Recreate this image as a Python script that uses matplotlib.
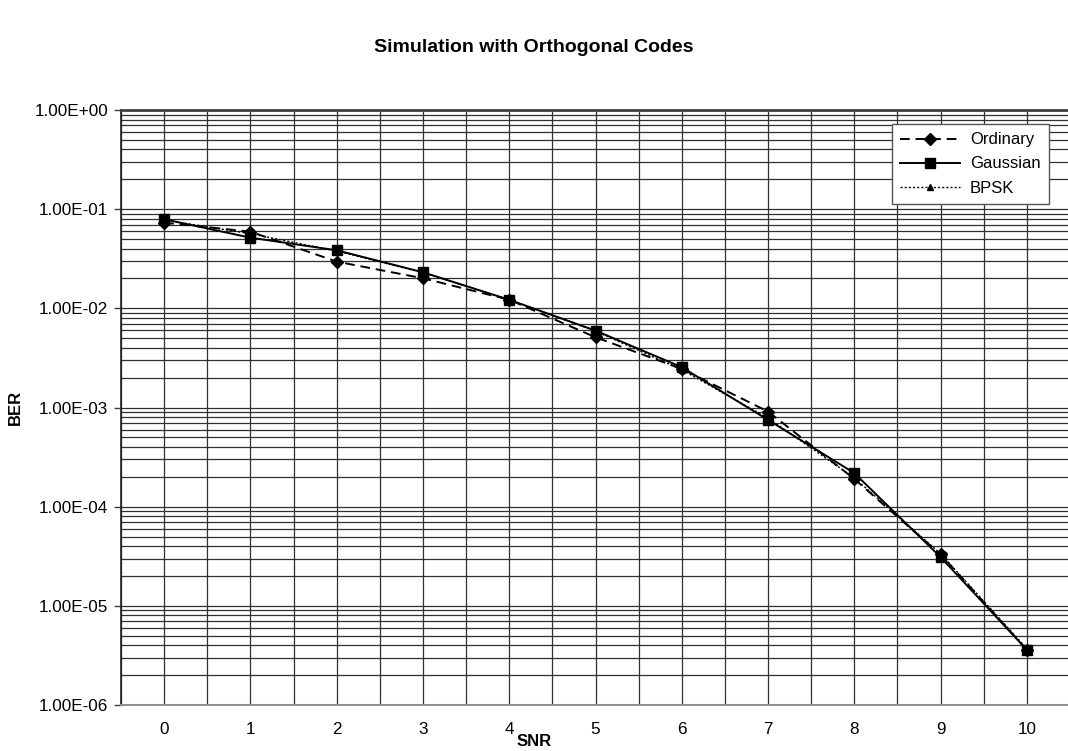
import numpy as np
import matplotlib.pyplot as plt
from matplotlib.ticker import LogLocator, FixedLocator

plt.rcParams['font.family'] = ['Liberation Sans', 'DejaVu Sans']

# SNR points (dB) and BER curves
snr = [0, 1, 2, 3, 4, 5, 6, 7, 8, 9, 10]
ber_ordinary = [0.0731, 0.0593, 0.0296, 0.0201, 0.0122, 0.00511, 0.00245,
                0.00091, 0.000190, 3.3e-5, 3.6e-6]
ber_gaussian = [0.0791, 0.0516, 0.0385, 0.0231, 0.0122, 0.00596, 0.00255,
                0.00075, 0.000218, 3.1e-5, 3.6e-6]
ber_bpsk = [0.0780, 0.0565, 0.0378, 0.0229, 0.0122, 0.00590, 0.00240,
            0.00078, 0.000195, 3.35e-5, 3.7e-6]

fig = plt.figure(figsize=(10.68, 7.51), dpi=100)
# plot area runs a bit past the right edge of the figure
ax = fig.add_axes([121/1068, 1 - 705/751, 949/1068, 595/751])

x = np.arange(len(snr))
ax.plot(x, ber_ordinary, color='black', linestyle=(0, (5, 3)), linewidth=1.4,
        marker='D', markersize=6, label='Ordinary', zorder=4)
ax.plot(x, ber_gaussian, color='black', linestyle='-', linewidth=1.4,
        marker='s', markersize=7, label='Gaussian', zorder=5)
ax.plot(x, ber_bpsk, color='black', linestyle=(0, (1.5, 1.5)), linewidth=1.0,
        marker='^', markersize=4, label='BPSK', zorder=3)

ax.set_yscale('log')
ax.set_ylim(1e-6, 1)
ax.set_xlim(-0.5, len(snr) - 0.5)

ax.yaxis.set_major_locator(LogLocator(base=10, numticks=10))
ax.yaxis.set_minor_locator(LogLocator(base=10, subs=np.arange(2, 10), numticks=20))
ax.yaxis.set_major_formatter(plt.FuncFormatter(lambda v, p: '{:.2E}'.format(v)))
ax.yaxis.set_minor_formatter(plt.NullFormatter())

ax.set_xticks(x)
ax.set_xticklabels([str(s) for s in snr])
ax.xaxis.set_minor_locator(FixedLocator(np.arange(-0.5, len(snr), 1.0)))

ax.grid(True, which='both', axis='both', color='#303030', linewidth=0.9)
ax.set_axisbelow(True)

ax.tick_params(axis='y', which='major', length=5, width=1, color='#404040',
               labelsize=12.3, pad=4)
ax.tick_params(axis='y', which='minor', length=0)
ax.tick_params(axis='x', which='both', length=0, labelsize=12.3, pad=12)

ax.spines['left'].set_color('#202020')
ax.spines['left'].set_linewidth(1.2)
ax.spines['bottom'].set_color('#909090')
ax.spines['bottom'].set_linewidth(1.5)
ax.spines['top'].set_color('#404040')
ax.spines['top'].set_linewidth(2)

# axis titles and chart title
fig.text(534/1068, 1 - 742/751, 'SNR', ha='center', va='center',
         fontsize=12, fontweight='bold')
fig.text(15/1068, 1 - 407/751, 'BER', ha='center', va='center',
         rotation=90, fontsize=12, fontweight='bold')
fig.text(534/1068, 1 - 47/751, 'Simulation with Orthogonal Codes',
         ha='center', va='center', fontsize=14, fontweight='bold')

leg = ax.legend(loc='upper right', bbox_to_anchor=(1049/1068, 1 - 124/751),
                bbox_transform=fig.transFigure, borderaxespad=0,
                fancybox=False, edgecolor='#555555', framealpha=1,
                fontsize=12, handlelength=3.6, labelspacing=0.55,
                borderpad=0.5, handletextpad=0.6)
leg.get_frame().set_linewidth(1.0)

fig.savefig('out.png', dpi=100)
